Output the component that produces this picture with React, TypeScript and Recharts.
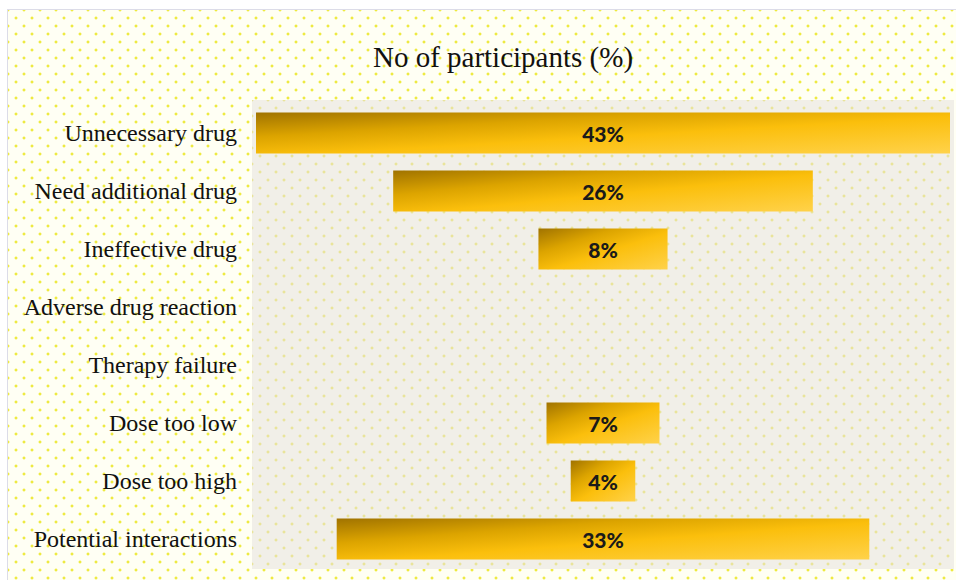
import React from 'react';
import { BarChart, Bar, XAxis, YAxis, LabelList } from 'recharts';

const categories = [
  'Unnecessary drug',
  'Need additional drug',
  'Ineffective drug',
  'Adverse drug reaction',
  'Therapy failure',
  'Dose too low',
  'Dose too high',
  'Potential interactions',
];
const values = [43, 26, 8, 0, 0, 7, 4, 33];
const maxValue = 43;

const data = categories.map((name, i) => ({
  name,
  pad: (maxValue - values[i]) / 2,
  value: values[i],
}));

const dots = (color: string) => ({
  backgroundImage: `radial-gradient(circle, ${color} 1.1px, transparent 1.8px), radial-gradient(circle, ${color} 1.1px, transparent 1.8px)`,
  backgroundSize: '16px 16px, 16px 16px',
  backgroundPosition: '0px 0px, 8px 8px',
});

const renderLabel = (props: any) => {
  const { x, y, width, height, value } = props;
  if (!value) return null;
  return (
    <text
      x={x + width / 2}
      y={y + height / 2}
      textAnchor="middle"
      dominantBaseline="central"
      fontFamily="Lato, 'Open Sans', sans-serif"
      fontWeight={900}
      fontSize={21}
      fill="#1a1a1a"
    >
      {value}%
    </text>
  );
};

export default function App() {
  return (
    <div style={{ position: 'absolute', left: 0, top: 0, width: 956, height: 580, background: '#ffffff', overflow: 'hidden' }}>
      <div
        style={{
          position: 'absolute',
          left: 7,
          top: 9,
          width: 949,
          height: 571,
          backgroundColor: '#fffff4',
          borderLeft: '1px solid #dcdce8',
          borderTop: '1px solid #dcdce8',
          ...dots('#eeea40'),
        }}
      />
      <div
        style={{
          position: 'absolute',
          left: 252,
          top: 100,
          width: 702,
          height: 469,
          backgroundColor: '#f1efe8',
          ...dots('#e9e49a'),
        }}
      />
      <div
        style={{
          position: 'absolute',
          left: 0,
          top: 38,
          width: 1006,
          textAlign: 'center',
          fontFamily: "'Liberation Serif', 'Times New Roman', serif",
          fontSize: 29,
          lineHeight: '38px',
          color: '#111',
        }}
      >
        No of participants (%)
      </div>
      <div style={{ position: 'absolute', left: 0, top: 0 }}>
        <BarChart
          width={956}
          height={580}
          data={data}
          layout="vertical"
          margin={{ top: 103.5, right: 6, bottom: 12.5, left: 0 }}
          barSize={41}
        >
          <defs>
            <linearGradient id="goldGrad" x1="0" y1="0" x2="1" y2="1">
              <stop offset="0%" stopColor="#a07300" />
              <stop offset="30%" stopColor="#dca400" />
              <stop offset="55%" stopColor="#fbbf0c" />
              <stop offset="100%" stopColor="#ffd24a" />
            </linearGradient>
          </defs>
          <XAxis type="number" domain={[0, maxValue]} hide />
          <YAxis
            type="category"
            dataKey="name"
            width={256}
            axisLine={false}
            tickLine={false}
            tickSize={0}
            tickMargin={19}
            interval={0}
            tick={{ fontFamily: "'Liberation Serif', 'Times New Roman', serif", fontSize: 24, fill: '#111' }}
          />
          <Bar dataKey="pad" stackId="a" fill="transparent" isAnimationActive={false} />
          <Bar dataKey="value" stackId="a" fill="url(#goldGrad)" isAnimationActive={false}>
            <LabelList dataKey="value" content={renderLabel} />
          </Bar>
        </BarChart>
      </div>
    </div>
  );
}
